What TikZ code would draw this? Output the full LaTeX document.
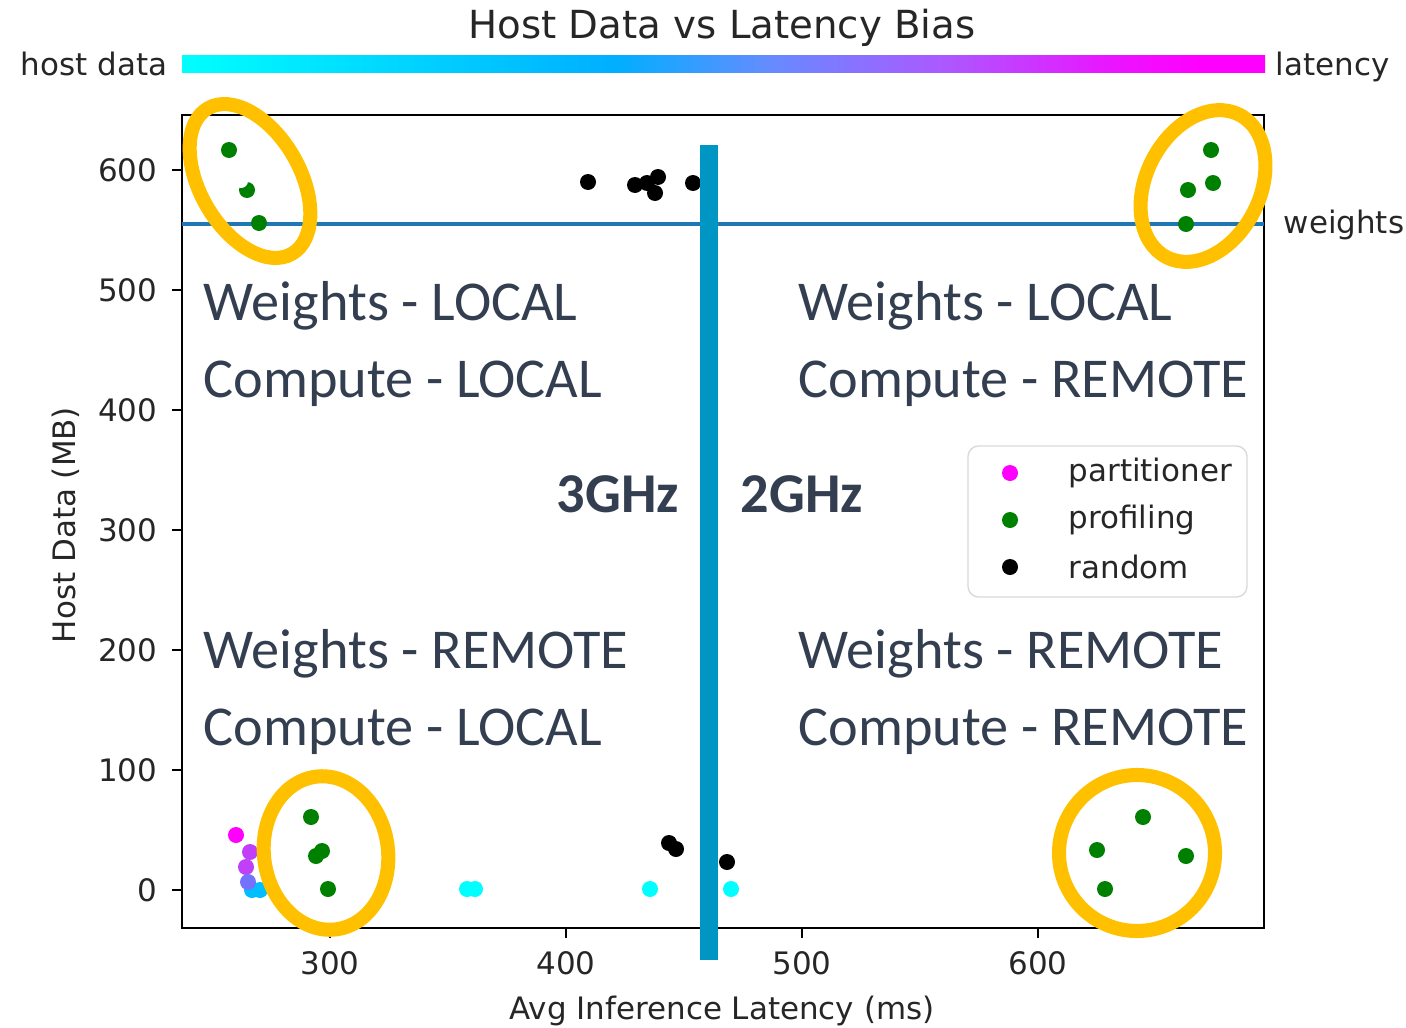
\documentclass[tikz,border=0pt]{standalone}
\usepackage{fontspec}
\setmainfont{DejaVu Sans}
\newfontfamily\slidefont{Carlito}

\definecolor{oro}{HTML}{FFC000}
\definecolor{barra}{RGB}{0,150,196}
\definecolor{texto}{HTML}{333F50}
\definecolor{linea}{HTML}{1F77B4}
\definecolor{verde}{HTML}{008000}
\definecolor{rosa}{RGB}{255,0,255}
\definecolor{celeste}{RGB}{0,255,255}
\definecolor{morado}{RGB}{192,64,250}
\definecolor{azul}{RGB}{0,190,255}

\pgfdeclarehorizontalshading{sesgo}{100bp}{color(0bp)=(celeste); color(25bp)=(celeste);
  color(37bp)=(rgb,255:red,0;green,205;blue,255); color(45bp)=(rgb,255:red,0;green,175;blue,255);
  color(52bp)=(rgb,255:red,100;green,140;blue,255); color(60bp)=(rgb,255:red,170;green,90;blue,255);
  color(68bp)=(rgb,255:red,235;green,20;blue,255); color(72bp)=(rosa); color(100bp)=(rosa)}

\tikzset{
  etiq/.style={inner sep=0pt, font=\fontsize{8.8}{10}\selectfont, text=black!85},
  grande/.style={inner sep=0pt, anchor=base west, font=\slidefont\fontsize{16}{19}\selectfont, text=texto},
  ghz/.style={inner sep=0pt, anchor=base west, font=\slidefont\bfseries\fontsize{16}{19}\selectfont, text=texto},
  anillo/.style={draw=oro, line width=4pt}
}

\begin{document}
\begin{tikzpicture}[x=0.01cm, y=-0.01cm]
			\useasboundingbox (0,0) rectangle (1406,1027);

			% Titulo y barra de color
			\node at (722,38) [anchor=base, inner sep=0pt, font=\fontsize{11}{13}\selectfont, text=black!85] (titulo) {Host Data vs Latency Bias};
			\shade[shading=sesgo] (182,55) rectangle (1265,72);
			\node at (168,75) [etiq, anchor=base east] (hd) {host data};
			\node at (1275,75) [etiq, anchor=base west] (lat) {latency};
			\node at (2,112) [anchor=east, inner sep=0pt, font=\slidefont\fontsize{16}{19}\selectfont, text=texto] (resto) {)};

			% Ejes
			\draw[line width=0.6pt] (182,115) rectangle (1264,928);
			\foreach \v in {0,100,...,600} {
				\draw[line width=0.6pt] (172,{890-1.2*\v}) -- (182,{890-1.2*\v});
				\node at (158,{890-1.2*\v}) [etiq, anchor=east] {\v};
			}
			\foreach \v in {300,400,500,600} {
				\draw[line width=0.6pt] ({330+2.36*(\v-300)},928) -- ({330+2.36*(\v-300)},938);
				\node at ({330+2.36*(\v-300)},951) [etiq, anchor=north] {\v};
			}
			\node at (722,1019) [etiq, anchor=base] (xlab) {Avg Inference Latency (ms)};
			\node at (66,525) [etiq, rotate=90] (ylab) {Host Data (MB)};

			% Linea de pesos
			\draw[linea, line width=0.9pt] (182,224) -- (1264,224);
			\node at (1283,233) [etiq, anchor=base west] (pesos) {weights};

			% Puntos
			\foreach \x/\y in {236/835} \fill[rosa] (\x,\y) circle[radius=8];
			\foreach \x/\y in {250/852,246/867} \fill[morado] (\x,\y) circle[radius=8];
			\foreach \x/\y in {252/890,260/890} \fill[azul] (\x,\y) circle[radius=8];
			\fill[morado!60!azul] (248,882) circle[radius=8];
			\foreach \x/\y in {467/889,475/889,650/889,731/889} \fill[celeste] (\x,\y) circle[radius=8];
			\foreach \x/\y in {229/150,247/190,259/223,1211/150,1213/183,1188/190,1186/224,
				311/817,322/851,316/856,328/889,1143/817,1097/850,1186/856,1105/889}
				\fill[verde] (\x,\y) circle[radius=8];
			\fill[white] (241,181) circle[radius=7];
			\foreach \x/\y in {588/182,635/185,647/183,658/177,655/193,693/183,669/843,676/849,727/862}
				\fill[black] (\x,\y) circle[radius=8];

			% Separador de frecuencia
			\fill[barra] (700,145) rectangle (718,960);

			% Anillos
			\draw[anillo] (250,181) circle[x radius=50, y radius=84, rotate=30];
			\draw[anillo] (1203,186) circle[x radius=57, y radius=80, rotate=-27];
			\draw[anillo] (326,853) circle[x radius=62, y radius=77, rotate=8];
			\draw[anillo] (1137,853) circle[x radius=78, y radius=78];

			% Cuadrantes
			\node at (203,320) [grande] (q1a) {Weights - LOCAL};
			\node at (203,397) [grande] (q1b) {Compute - LOCAL};
			\node at (798,320) [grande] (q2a) {Weights - LOCAL};
			\node at (798,397) [grande] (q2b) {Compute - REMOTE};
			\node at (203,668) [grande] (q3a) {Weights - REMOTE};
			\node at (203,745) [grande] (q3b) {Compute - LOCAL};
			\node at (798,668) [grande] (q4a) {Weights - REMOTE};
			\node at (798,745) [grande] (q4b) {Compute - REMOTE};
			\node at (556,512) [ghz] (f3) {3GHz};
			\node at (740,512) [ghz] (f2) {2GHz};

			% Leyenda
			\draw[black!15, fill=white, rounded corners=3pt] (968,446) rectangle (1247,597);
			\fill[rosa] (1010,473) circle[radius=8];
			\fill[verde] (1010,520) circle[radius=8];
			\fill[black] (1010,567) circle[radius=8];
			\node at (1068,473) [etiq, anchor=west] (l1) {partitioner};
			\node at (1068,520) [etiq, anchor=west] (l2) {profiling};
			\node at (1068,567) [etiq, anchor=west] (l3) {random};
		\end{tikzpicture}
\end{document}
